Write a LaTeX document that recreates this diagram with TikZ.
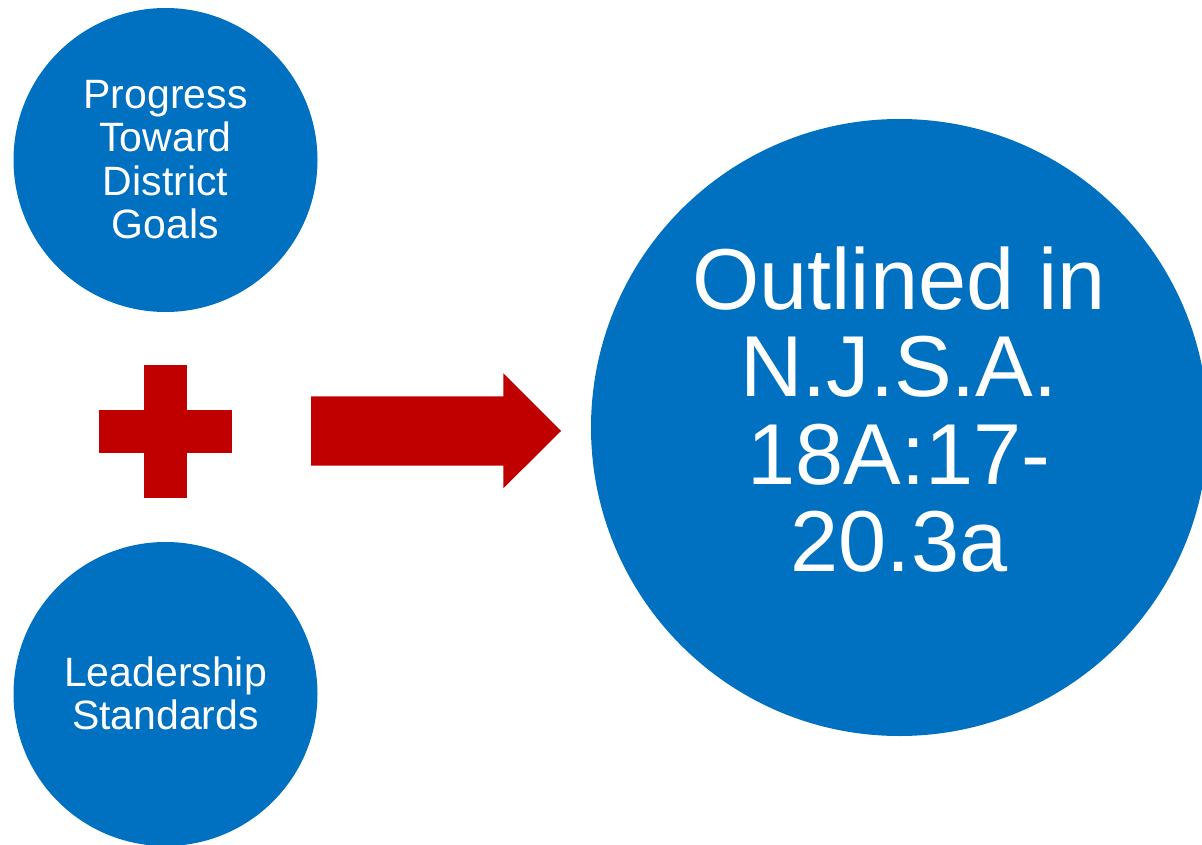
\documentclass[tikz,border=0pt]{standalone}
\usepackage{fontspec}
\setmainfont{Liberation Sans}
\definecolor{discblue}{HTML}{0070C0}
\definecolor{signred}{HTML}{C00000}
\begin{document}
\begin{tikzpicture}[x=1pt,y=-1pt,
  disc/.style={circle, fill=discblue, draw=none, inner sep=0pt},
  disctext/.style={text=white, align=center, inner sep=0pt},
  smalltext/.style={disctext, font=\fontsize{41}{43.5}\selectfont},
  bigtext/.style={disctext, font=\fontsize{86.5}{87.3}\selectfont},
  sign/.style={fill=signred, draw=none}]
\useasboundingbox (0,0) rectangle (1202,845);
\clip (0,0) rectangle (1202,845);

% the two input discs
\node[disc, minimum size=304pt] (goals) at (165.5,160) {};
\node[smalltext] (goalstext) at (165.5,159.5) {Progress\\Toward\\District\\Goals};

\node[disc, minimum size=304pt] (lead) at (165.5,694) {};
\node[smalltext] (leadtext) at (165.5,693.5) {Leadership\\Standards};

% the result disc
\node[disc, minimum size=617pt] (result) at (899.5,427.5) {};
\node[bigtext] (resulttext) at (899,409.5) {Outlined in\\N.J.S.A.\\18A:17-\\20.3a};

% plus sign
\fill[sign] (144.3,365.3) rectangle (187,497.7);
\fill[sign] (99.3,410.3) rectangle (232.3,452.7);

% block arrow
\fill[sign] (311,396.3) -- (503.3,396.3) -- (503.3,373.3) -- (561,431)
  -- (503.3,488.3) -- (503.3,465.7) -- (311,465.7) -- cycle;
\end{tikzpicture}
\end{document}
